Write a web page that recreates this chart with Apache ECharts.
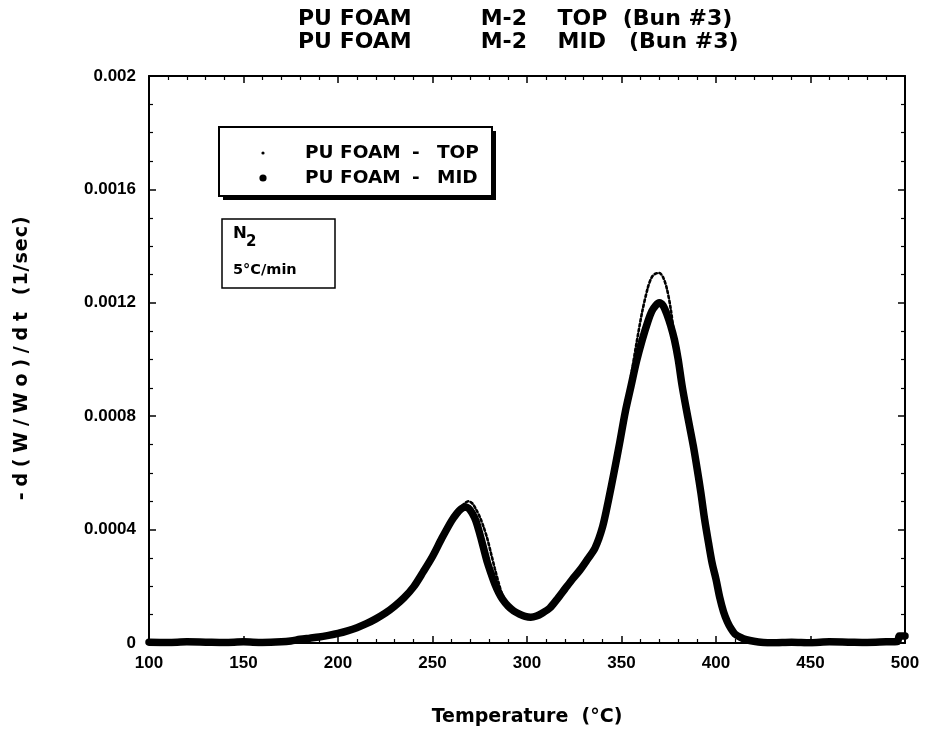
<!DOCTYPE html>
<html>
<head>
<meta charset="utf-8">
<script src="https://cdn.jsdelivr.net/npm/echarts@6/dist/echarts.min.js"></script>
<style>
html,body{margin:0;padding:0;background:#fff;}
#chart{width:931px;height:738px;}
</style>
</head>
<body>
<div id="chart"></div>
<script>
// Temperature (°C) sample points
const temps = [100,110,120,130,140,150,160,170,175,180,185,190,195,200,205,210,215,220,225,230,
  235,240,245,250,255,260,263,265,267,269,271,273,275,277,279,281,283,285,287,290,
  293,296,299,302,305,308,312,316,320,324,328,332,336,340,343,346,349,352,355,358,
  361,364,366,368,370,372,374,376,378,380,382,384,386,388,390,392,394,396,398,400,
  402,404,406,408,410,413,416,420,425,430,440,450,460,470,480,490,496,497,500];

// PU FOAM - MID  (-d(W/Wo)/dt, 1/sec)
const midValues = [3e-6,2e-6,4e-6,3e-6,2e-6,4e-6,2e-6,4e-6,7e-6,1.3e-5,1.7e-5,2.1e-5,2.7e-5,3.4e-5,4.3e-5,5.4e-5,6.8e-5,8.5e-5,1.05e-4,1.3e-4,
  1.6e-4,1.98e-4,2.5e-4,3.05e-4,3.7e-4,4.3e-4,4.58e-4,4.72e-4,4.8e-4,4.76e-4,4.58e-4,4.3e-4,3.85e-4,3.35e-4,2.85e-4,2.45e-4,2.08e-4,1.78e-4,1.55e-4,1.3e-4,
  1.13e-4,1.02e-4,9.4e-5,9.1e-5,9.5e-5,1.05e-4,1.23e-4,1.55e-4,1.9e-4,2.25e-4,2.57e-4,2.95e-4,3.35e-4,4.1e-4,5.0e-4,6.0e-4,7.05e-4,8.15e-4,9.05e-4,9.95e-4,
  1.07e-3,1.135e-3,1.17e-3,1.19e-3,1.2e-3,1.19e-3,1.16e-3,1.12e-3,1.07e-3,1.0e-3,9.1e-4,8.35e-4,7.65e-4,6.95e-4,6.15e-4,5.3e-4,4.35e-4,3.55e-4,2.8e-4,2.25e-4,
  1.6e-4,1.1e-4,7.5e-5,5e-5,3.2e-5,2e-5,1.2e-5,6e-6,2e-6,1e-6,3e-6,1e-6,4e-6,3e-6,2e-6,4e-6,5e-6,2.5e-5,2.5e-5];

// PU FOAM - TOP
const topValues = [3e-6,2e-6,4e-6,3e-6,2e-6,4e-6,2e-6,4e-6,7e-6,1.3e-5,1.7e-5,2.1e-5,2.7e-5,3.4e-5,4.3e-5,5.4e-5,6.8e-5,8.5e-5,1.05e-4,1.3e-4,
  1.6e-4,1.98e-4,2.5e-4,3.05e-4,3.7e-4,4.3e-4,4.6e-4,4.78e-4,4.92e-4,5.0e-4,4.93e-4,4.72e-4,4.45e-4,4.1e-4,3.68e-4,3.15e-4,2.62e-4,2.12e-4,1.7e-4,1.35e-4,
  1.13e-4,1.02e-4,9.4e-5,9.1e-5,9.5e-5,1.05e-4,1.23e-4,1.55e-4,1.9e-4,2.25e-4,2.57e-4,2.95e-4,3.35e-4,4.1e-4,5.0e-4,6.0e-4,7.05e-4,8.3e-4,9.4e-4,1.06e-3,
  1.17e-3,1.255e-3,1.29e-3,1.303e-3,1.305e-3,1.29e-3,1.25e-3,1.18e-3,1.08e-3,1.0e-3,9.1e-4,8.35e-4,7.65e-4,6.95e-4,6.15e-4,5.3e-4,4.35e-4,3.55e-4,2.8e-4,2.25e-4,
  1.6e-4,1.1e-4,7.5e-5,5e-5,3.2e-5,2e-5,1.2e-5,6e-6,2e-6,1e-6,3e-6,1e-6,4e-6,3e-6,2e-6,4e-6,5e-6,2.5e-5,2.5e-5];

const yTickLabels = ['0','0.0004','0.0008','0.0012','0.0016','0.002'];
const xTickLabels = ['100','150','200','250','300','350','400','450','500'];
const titleLines = ['PU FOAM         M-2    TOP  (Bun #3)', 'PU FOAM         M-2    MID   (Bun #3)'];
const seriesNames = ['PU FOAM -  TOP', 'PU FOAM -  MID'];
const yName = ['-d(W/Wo)/dt', '(1/sec)'];
const xName = 'Temperature  (°C)';

const FONT = '"DejaVu Sans", "Liberation Sans", sans-serif';
const TICKFONT = '"Liberation Sans", Arial, sans-serif';
const chart = echarts.init(document.getElementById('chart'));

// rich text with per-character spacing for the y-axis title
function spaced(str, style) {
  return str.split('').map(ch => '{' + style + '|' + ch + '}').join('');
}

function axisCommon(showLabels, formatter, splitNumber, margin) {
  return {
    axisLine: {show: true, onZero: false, lineStyle: {color: '#000', width: 2}},
    axisTick: {show: true, inside: true, length: 7, lineStyle: {color: '#000', width: 1.5}},
    minorTick: {show: true, splitNumber: splitNumber, length: 4, lineStyle: {color: '#000', width: 1.2}},
    splitLine: {show: false},
    minorSplitLine: {show: false},
    axisLabel: {show: showLabels, color: '#000', fontFamily: TICKFONT, fontWeight: 'bold', fontSize: 17, margin: margin, formatter: formatter}
  };
}

const option = {
  backgroundColor: '#fff',
  animation: false,
  title: {
    text: titleLines.join('\n'),
    left: 293, top: 3, textAlign: 'left',
    textStyle: {fontFamily: FONT, fontWeight: 'bold', fontSize: 22, lineHeight: 23, color: '#000'}
  },
  grid: {left: 149, right: 26, top: 76, bottom: 95},
  xAxis: [
    Object.assign({type: 'value', min: 100, max: 500, interval: 50, position: 'bottom',
      name: xName, nameLocation: 'middle', nameGap: 65,
      nameTextStyle: {fontFamily: FONT, fontWeight: 'bold', fontSize: 19, color: '#000'}},
      axisCommon(true, v => xTickLabels[Math.round((v - 100) / 50)], 5, 12)),
    Object.assign({type: 'value', min: 100, max: 500, interval: 50, position: 'top'},
      axisCommon(false, null, 5, 12))
  ],
  yAxis: [
    Object.assign({type: 'value', min: 0, max: 0.002, interval: 0.0004, position: 'left',
      name: spaced(yName[0], 'a') + '{s|  }' + spaced(yName[1], 'b'),
      nameLocation: 'middle', nameGap: 117, nameRotate: 90,
      nameTextStyle: {color: '#000', rich: {
        a: {fontFamily: FONT, fontWeight: 'bold', fontSize: 19, color: '#000', padding: [0, 2.9, 0, 2.9]},
        b: {fontFamily: FONT, fontWeight: 'bold', fontSize: 19, color: '#000', padding: [0, 0.5, 0, 0.5]},
        s: {fontFamily: FONT, fontWeight: 'bold', fontSize: 19, color: '#000'}
      }}},
      axisCommon(true, v => yTickLabels[Math.round(v / 0.0004)], 4, 13)),
    Object.assign({type: 'value', min: 0, max: 0.002, interval: 0.0004, position: 'right'},
      axisCommon(false, null, 4, 13))
  ],
  series: [
    {
      name: seriesNames[0], type: 'line', xAxisIndex: 0, yAxisIndex: 0,
      data: temps.map((t, i) => [t, topValues[i]]),
      showSymbol: false, smooth: 0.3,
      lineStyle: {color: '#000', width: 2.6, type: [2.4, 2.6], cap: 'round'},
      z: 2
    },
    {
      name: seriesNames[1], type: 'line', xAxisIndex: 0, yAxisIndex: 0,
      data: temps.map((t, i) => [t, midValues[i]]),
      showSymbol: false, smooth: 0.3,
      lineStyle: {color: '#000', width: 7.5, cap: 'round', join: 'round'},
      z: 3
    }
  ],
  graphic: [
    // legend box with drop shadow
    {type: 'rect', shape: {x: 223, y: 131, width: 273, height: 69}, style: {fill: '#000'}, z: 10},
    {type: 'rect', shape: {x: 219, y: 127, width: 273, height: 69},
      style: {fill: '#fff', stroke: '#000', lineWidth: 2}, z: 11},
    {type: 'circle', shape: {cx: 263, cy: 153, r: 1.6}, style: {fill: '#000'}, z: 12},
    {type: 'circle', shape: {cx: 263, cy: 178, r: 3.6}, style: {fill: '#000'}, z: 12},
    {type: 'text', x: 305, y: 153, style: {text: 'PU FOAM', fontFamily: FONT, fontWeight: 'bold', fontSize: 18.5, fill: '#000', verticalAlign: 'middle'}, z: 12},
    {type: 'text', x: 412, y: 153, style: {text: '-', fontFamily: FONT, fontWeight: 'bold', fontSize: 18.5, fill: '#000', verticalAlign: 'middle'}, z: 12},
    {type: 'text', x: 437, y: 153, style: {text: 'TOP', fontFamily: FONT, fontWeight: 'bold', fontSize: 18.5, fill: '#000', verticalAlign: 'middle'}, z: 12},
    {type: 'text', x: 305, y: 178, style: {text: 'PU FOAM', fontFamily: FONT, fontWeight: 'bold', fontSize: 18.5, fill: '#000', verticalAlign: 'middle'}, z: 12},
    {type: 'text', x: 412, y: 178, style: {text: '-', fontFamily: FONT, fontWeight: 'bold', fontSize: 18.5, fill: '#000', verticalAlign: 'middle'}, z: 12},
    {type: 'text', x: 437, y: 178, style: {text: 'MID', fontFamily: FONT, fontWeight: 'bold', fontSize: 18.5, fill: '#000', verticalAlign: 'middle'}, z: 12},
    // conditions box
    {type: 'rect', shape: {x: 222, y: 219, width: 113, height: 69},
      style: {fill: '#fff', stroke: '#000', lineWidth: 1.5}, z: 10},
    {type: 'text', x: 233, y: 234, style: {text: 'N', fontFamily: FONT, fontWeight: 'bold', fontSize: 16.5, fill: '#000', verticalAlign: 'middle'}, z: 11},
    {type: 'text', x: 246, y: 242, style: {text: '2', fontFamily: FONT, fontWeight: 'bold', fontSize: 15, fill: '#000', verticalAlign: 'middle'}, z: 11},
    {type: 'text', x: 233, y: 270, style: {text: '5°C/min', fontFamily: FONT, fontWeight: 'bold', fontSize: 14.5, fill: '#000', verticalAlign: 'middle'}, z: 11}
  ]
};
chart.setOption(option);
</script>
</body>
</html>
